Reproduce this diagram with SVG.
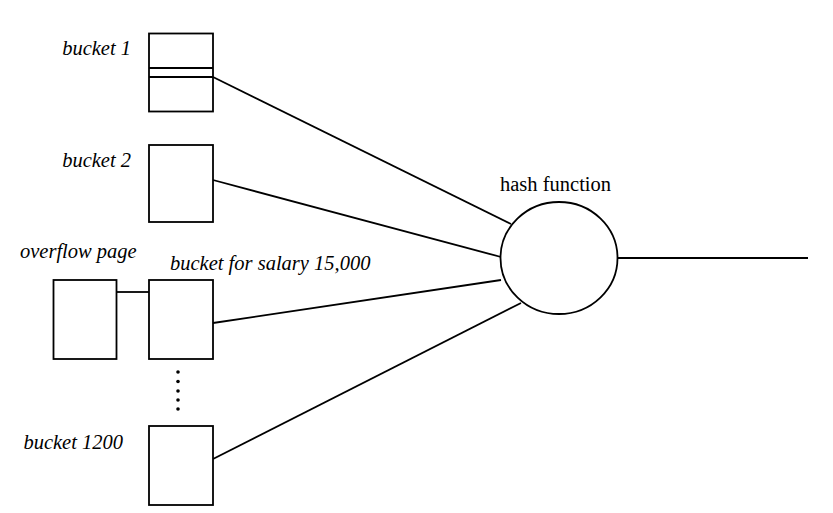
<svg xmlns="http://www.w3.org/2000/svg" width="833" height="513" viewBox="0 0 833 513">
<style>
.box{fill:#fff;stroke:#000;stroke-width:1.8}
.ln{stroke:#000;stroke-width:1.8;fill:none}
.lbl{font-family:"Liberation Serif",serif;font-style:italic;font-size:20.5px;fill:#000}
.hf{font-family:"Liberation Serif",serif;font-size:20.5px;fill:#000}
</style>
<rect width="833" height="513" fill="#fff"/>
<g id="connectors">
<line class="ln" x1="213" y1="77" x2="511" y2="224"/>
<line class="ln" x1="213" y1="180" x2="501" y2="257"/>
<line class="ln" x1="213" y1="323" x2="501" y2="280"/>
<line class="ln" x1="213" y1="459" x2="521" y2="303"/>
<line class="ln" x1="617" y1="258" x2="808" y2="258"/>
<line class="ln" x1="117" y1="292" x2="149" y2="292"/>
</g>
<g id="bucket1">
<rect class="box" x="149" y="33.5" width="64" height="78"/>
<line class="ln" x1="149" y1="68" x2="213" y2="68"/>
<line class="ln" x1="149" y1="77" x2="213" y2="77"/>
<text class="lbl" x="131" y="55" text-anchor="end">bucket 1</text>
</g>
<g id="bucket2">
<rect class="box" x="149" y="145" width="64" height="77"/>
<text class="lbl" x="131" y="167" text-anchor="end">bucket 2</text>
</g>
<g id="overflow">
<rect class="box" x="53.5" y="280" width="63" height="79"/>
<text class="lbl" x="20" y="258">overflow page</text>
</g>
<g id="bucket15000">
<rect class="box" x="149" y="280" width="64" height="79"/>
<text class="lbl" x="170" y="270">bucket for salary 15,000</text>
</g>
<g id="dots">
<circle cx="178" cy="372" r="1.8"/>
<circle cx="178" cy="381.5" r="1.8"/>
<circle cx="178" cy="391" r="1.8"/>
<circle cx="178" cy="400" r="1.8"/>
<circle cx="178" cy="409" r="1.8"/>
</g>
<g id="bucket1200">
<rect class="box" x="149" y="426" width="64" height="79"/>
<text class="lbl" x="123" y="449" text-anchor="end">bucket 1200</text>
</g>
<g id="hash">
<ellipse class="box" cx="559" cy="258" rx="58.5" ry="56"/>
<text class="hf" x="500" y="191">hash function</text>
</g>
</svg>
